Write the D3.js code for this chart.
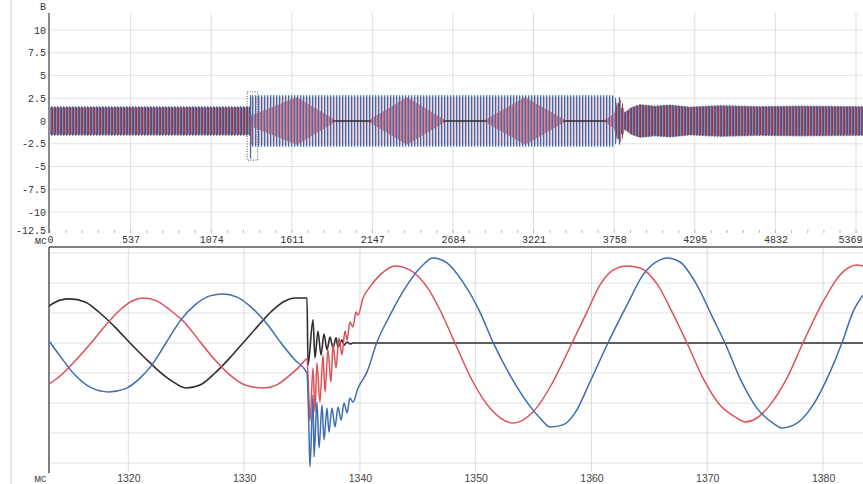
<!DOCTYPE html>
<html><head><meta charset="utf-8">
<script src="https://cdn.jsdelivr.net/npm/d3@7"></script>
<style>body{margin:0;background:#fff}svg{display:block}</style>
</head><body>
<svg id="c" width="863" height="484"></svg>
<script>
// ---------- DATA ----------
const topXTicks = [0,537,1074,1611,2147,2684,3221,3758,4295,4832,5369];
const topYTicks = [10,7.5,5,2.5,0,-2.5,-5,-7.5,-10,-12.5];
const topYLabels = ["10","7.5","5","2.5","0","-2.5","-5","-7.5","-10","-12.5"];
const botXTicks = [1320,1330,1340,1350,1360,1370,1380];
const botYGrid = [3,2,1,0,-1,-2,-3,-4];
const timeUnit = "мс", voltUnit = "В";

// top (overview) envelopes, ms / V
const topBlueT = [0,1334,1337,3756,3780,3800,3830,3870,3930,4030,4130,4263,4463,4730,4996,5415];
const topBlueA = [1.63,1.63,2.83,2.83,2.2,1.6,0.9,1.5,1.85,1.7,1.8,1.6,1.75,1.65,1.7,1.65];
const topBlackT = [0,1334,1337,3756,3780,3800,3830,3870,3930,4030,4130,4263,4463,4730,4996,5415];
const topBlackA = [1.5,1.5,0,0,2.4,2.7,1.0,1.4,1.8,1.6,1.75,1.5,1.65,1.55,1.6,1.55];
const topRedT = [0,1334,1337,1645,1912,2112,2378,2644,2884,3164,3444,3684,3756,3780,3800,3830,3870,3930,4030,4130,4263,4463,4730,4996,5415];
const topRedA = [1.5,1.5,0.6,2.6,0,0,2.6,0,0,2.6,0,0,0.8,2.0,2.4,1.0,1.5,1.8,1.65,1.75,1.55,1.7,1.6,1.65,1.6];
const topRedEnvT = [1337,3756];
const topRedEnvA = [2.6,2.6];

// bottom (zoomed) traces [ms, V]
const botBlack = [[1313.15,1.23],[1314.10,1.43],[1314.96,1.47],[1316.26,1.37],[1317.55,1.00],[1318.85,0.53],[1320.15,0.00],[1321.44,-0.50],[1322.74,-0.97],[1323.77,-1.27],[1324.98,-1.50],[1326.19,-1.40],[1327.49,-1.00],[1328.69,-0.53],[1329.90,0.00],[1331.20,0.57],[1332.41,1.07],[1333.53,1.40],[1334.39,1.50],[1335.43,1.50],
[1335.52,-0.73],[1335.95,0.77],[1336.12,-0.50],[1336.38,0.40],[1336.64,-0.40],[1336.90,0.30],[1337.16,-0.23],[1337.42,0.20],[1337.68,-0.17],[1337.94,0.17],[1338.11,-0.13],[1338.45,0.10],[1338.63,-0.07],[1338.89,0.03],[1339.14,-0.03],[1339.40,0],[1383.45,0]];
const botRed = [[1313.15,-1.37],[1314.10,-1.10],[1315.40,-0.60],[1316.78,0],[1317.99,0.57],[1319.28,1.10],[1320.32,1.40],[1321.27,1.50],[1322.30,1.43],[1323.60,1.10],[1324.89,0.67],[1326.28,0],[1327.49,-0.57],[1328.78,-1.07],[1330.08,-1.40],[1331.63,-1.50],[1332.93,-1.37],[1333.96,-1.07],[1334.83,-0.77],[1335.43,-0.53],
[1335.60,-1.90],[1335.69,-2.60],[1335.95,-0.83],[1336.12,-2.30],[1336.29,-0.67],[1336.55,-1.97],[1336.81,-0.40],[1336.99,-1.63],[1337.24,-0.23],[1337.50,-1.30],[1337.68,-0.07],[1337.94,-0.83],[1338.19,0.17],[1338.45,-0.40],[1338.71,0.40],[1338.89,0.10],[1339.14,0.70],[1339.40,0.53],[1339.66,1.03],[1339.84,0.93],[1340.27,1.50],[1340.87,1.87],[1341.74,2.27],[1343.03,2.57],[1344.33,2.43],[1345.79,1.87],[1346.92,1.10],[1348.21,0],[1349.77,-1.30],[1351.23,-2.17],[1353.22,-2.67],[1354.95,-2.30],[1356.67,-1.30],[1357.54,-0.63],[1358.32,0],[1359.61,1.03],[1360.73,1.93],[1361.86,2.43],[1363.07,2.57],[1364.19,2.50],[1365.66,1.97],[1367.04,0.97],[1368.25,0],[1369.63,-1.17],[1371.10,-2.07],[1372.56,-2.50],[1373.26,-2.63],[1374.29,-2.50],[1375.41,-2.07],[1376.88,-1.17],[1378.26,0],[1379.99,1.37],[1381.46,2.27],[1382.93,2.60],[1383.45,2.57]];
const botBlue = [[1313.15,0.07],[1314.10,-0.43],[1315.40,-1.07],[1316.69,-1.47],[1318.33,-1.63],[1319.71,-1.53],[1321.01,-1.17],[1322.05,-0.73],[1323.25,0],[1324.46,0.73],[1325.76,1.27],[1327.05,1.57],[1328.18,1.63],[1329.39,1.53],[1330.68,1.17],[1331.98,0.63],[1333.19,0],[1334.39,-0.57],[1335.43,-1.00],
[1335.60,-2.90],[1335.69,-4.13],[1335.95,-1.73],[1336.04,-3.80],[1336.29,-1.97],[1336.47,-3.50],[1336.73,-2.07],[1336.90,-3.23],[1337.16,-2.17],[1337.33,-2.97],[1337.59,-2.17],[1337.85,-2.80],[1338.11,-2.13],[1338.37,-2.57],[1338.63,-2.00],[1338.89,-2.33],[1339.14,-1.83],[1339.40,-1.97],[1339.84,-1.50],[1340.61,-0.97],[1341.48,0.03],[1342.60,0.93],[1344.07,1.93],[1345.45,2.60],[1346.31,2.83],[1347.52,2.67],[1348.90,2.03],[1350.37,1.03],[1351.49,0.03],[1352.96,-1.07],[1354.43,-1.97],[1355.55,-2.50],[1356.42,-2.80],[1357.54,-2.73],[1358.58,-2.33],[1359.87,-1.30],[1361.42,0],[1363.07,1.27],[1364.45,2.27],[1365.92,2.77],[1366.52,2.83],[1367.64,2.70],[1369.11,1.93],[1370.49,0.83],[1371.53,0],[1372.82,-1.17],[1374.29,-2.17],[1375.67,-2.67],[1376.45,-2.83],[1377.75,-2.67],[1379.13,-2.07],[1380.60,-0.97],[1381.63,0],[1382.58,1.03],[1383.45,1.60]];

// ---------- STYLE ----------
const C = {blue:"#3c6db2", red:"#de5058", black:"#2e2e2e", navy:"#27304a"};
const svg = d3.select("#c");
const defs = svg.append("defs");
function stripe(id, x, w, color){
  const p = defs.append("pattern").attr("id",id).attr("patternUnits","userSpaceOnUse")
    .attr("width",3).attr("height",4);
  p.append("rect").attr("x",x).attr("y",0).attr("width",w).attr("height",4).attr("fill",color);
}
stripe("pBlue",0,1.3,C.blue);
stripe("pBlack",0.9,1.0,C.navy);
stripe("pRed",1.6,1.2,"#c84a5c");
defs.append("clipPath").attr("id","clipTop").append("rect").attr("x",49).attr("y",13).attr("width",814).attr("height",220);
defs.append("clipPath").attr("id","clipBot").append("rect").attr("x",49).attr("y",247).attr("width",814).attr("height",226);

// page border line of the scan
svg.append("line").attr("x1",11).attr("x2",11).attr("y1",0).attr("y2",484).attr("stroke","#c9c9c9");

// ---------- SCALES ----------
const xT = d3.scaleLinear().domain([0,5369]).range([50,856]);
const yT = d3.scaleLinear().domain([-12.5,12.5]).range([234.75,7.25]);
const xB = d3.scaleLinear().domain([1313.15,1383.45]).range([49,863]);
const yB = d3.scaleLinear().domain([-4.3,3.2]).range([472,247]);

// ---------- TOP PANEL ----------
const gT = svg.append("g");
gT.selectAll(".hg").data(topYTicks.filter(d=>d>-12.5)).join("line")
  .attr("x1",49).attr("x2",863).attr("y1",d=>yT(d)).attr("y2",d=>yT(d))
  .attr("stroke","#e4e4e4");
gT.selectAll(".vg").data(topXTicks.slice(1)).join("line")
  .attr("x1",d=>xT(d)).attr("x2",d=>xT(d)).attr("y1",13).attr("y2",233)
  .attr("stroke","#dedede");
gT.selectAll(".mt").data(d3.range(0,5420,537/5)).join("line")
  .attr("x1",d=>xT(d)).attr("x2",d=>xT(d)).attr("y1",230).attr("y2",233)
  .attr("stroke","#b8b8b8");

const bands = gT.append("g").attr("clip-path","url(#clipTop)");
const area = d3.area().x(d=>xT(d[0])).y0(d=>yT(-d[1])).y1(d=>yT(d[1]));
function band(T,A,fill,op){
  bands.append("path").datum(T.map((t,i)=>[t,A[i]])).attr("d",area).attr("fill",fill).attr("opacity",op);
}
band(topRedEnvT, topRedEnvA, "#eeb3bb", 0.55);
band(topBlueT, topBlueA, "url(#pBlue)", 1);
band(topBlackT, topBlackA, "url(#pBlack)", 1);
// black trace near zero, visible where the red envelope collapses
const necks = [];
topRedT.forEach((t,i)=>{ if(i>0 && topRedA[i]===0 && topRedA[i-1]===0) necks.push([topRedT[i-1],t]); });
bands.selectAll(".neck").data(necks).join("line")
  .attr("x1",d=>xT(d[0])-4).attr("x2",d=>xT(d[1])+4)
  .attr("y1",yT(0)).attr("y2",yT(0)).attr("stroke",C.black).attr("stroke-width",1.4);
band(topRedT, topRedA, "url(#pRed)", 1);
// fault spikes taken from the zoomed traces
const faultWin = d=>d[0]>1335.5 && d[0]<1340;
const blueMin = d3.min(botBlue.filter(faultWin), d=>d[1]);
const redMin = d3.min(botRed.filter(faultWin), d=>d[1]);
bands.append("line").attr("x1",xT(1336)).attr("x2",xT(1336)).attr("y1",yT(2.83)).attr("y2",yT(blueMin))
  .attr("stroke",C.blue).attr("stroke-width",1.3);
bands.append("line").attr("x1",xT(1336)+1.2).attr("x2",xT(1336)+1.2).attr("y1",yT(0)).attr("y2",yT(redMin))
  .attr("stroke",C.red).attr("stroke-width",1);
// selection window = bottom panel range
gT.append("rect").attr("x",xT(xB.domain()[0])).attr("y",yT(yB.domain()[1]))
  .attr("width",xT(xB.domain()[1])-xT(xB.domain()[0]))
  .attr("height",yT(yB.domain()[0])-yT(yB.domain()[1]))
  .attr("fill","none").attr("stroke","#555").attr("stroke-width",1).attr("stroke-dasharray","1,1.5");

// axes
gT.append("line").attr("x1",49).attr("x2",49).attr("y1",13).attr("y2",233).attr("stroke","#666").attr("stroke-width",1.5);
const mono = "'Liberation Mono','DejaVu Sans Mono',monospace";
const ay = gT.append("g").attr("transform","translate(49,0)")
  .call(d3.axisLeft(yT).tickValues(topYTicks).tickSize(0).tickPadding(3).tickFormat((d,i)=>topYLabels[i]));
ay.select(".domain").remove();
ay.selectAll("text").attr("font-family",mono).attr("font-size",10).attr("fill","#333")
  .attr("dy",d=>d===-12.5?"-0.15em":"0.32em");
gT.append("text").attr("x",46).attr("y",10).attr("text-anchor","end")
  .attr("font-family",mono).attr("font-size",10).attr("fill","#333").text(voltUnit);
const ax = gT.append("g").attr("transform","translate(0,233)")
  .call(d3.axisBottom(xT).tickValues(topXTicks).tickSize(0).tickPadding(3).tickFormat(d=>String(d)));
ax.select(".domain").remove();
ax.selectAll("text").attr("font-family",mono).attr("font-size",10).attr("fill","#333")
  .attr("text-anchor",d=>d===5369?"end":"middle").attr("dx",d=>d===5369?"6":"0");
gT.append("text").attr("x",47).attr("y",244).attr("text-anchor","end")
  .attr("font-family",mono).attr("font-size",10).attr("fill","#333").text(timeUnit);

// ---------- BOTTOM PANEL ----------
const gB = svg.append("g");
gB.selectAll(".bh").data(botYGrid).join("line")
  .attr("x1",49).attr("x2",863).attr("y1",d=>yB(d)).attr("y2",d=>yB(d)).attr("stroke","#e2e2e2");
gB.selectAll(".bv").data(botXTicks).join("line")
  .attr("x1",d=>xB(d)).attr("x2",d=>xB(d)).attr("y1",247).attr("y2",472).attr("stroke","#dcdcdc");
gB.append("line").attr("x1",49).attr("x2",863).attr("y1",247).attr("y2",247).attr("stroke","#555").attr("stroke-width",1.5);
gB.append("line").attr("x1",49).attr("x2",49).attr("y1",247).attr("y2",473).attr("stroke","#555").attr("stroke-width",1.5);

const line = d3.line().x(d=>xB(d[0])).y(d=>yB(d[1])).curve(d3.curveMonotoneX);
const lines = gB.append("g").attr("clip-path","url(#clipBot)");
[[botBlack,C.black,1.6],[botRed,C.red,1.5],[botBlue,C.blue,1.5]].forEach(([d,c,w])=>{
  lines.append("path").datum(d).attr("d",line).attr("fill","none").attr("stroke",c)
    .attr("stroke-width",w).attr("stroke-linejoin","round");
});

const sans = "'Liberation Sans',Arial,sans-serif";
const bx = gB.append("g").attr("transform","translate(0,472)")
  .call(d3.axisBottom(xB).tickValues(botXTicks).tickSize(0).tickPadding(3).tickFormat(d=>String(d)));
bx.select(".domain").remove();
bx.selectAll("text").attr("font-family",sans).attr("font-size",10.5).attr("fill","#444");
gB.append("text").attr("x",46).attr("y",482).attr("text-anchor","end")
  .attr("font-family",sans).attr("font-size",10).attr("fill","#444").text(timeUnit);
</script>
</body></html>
